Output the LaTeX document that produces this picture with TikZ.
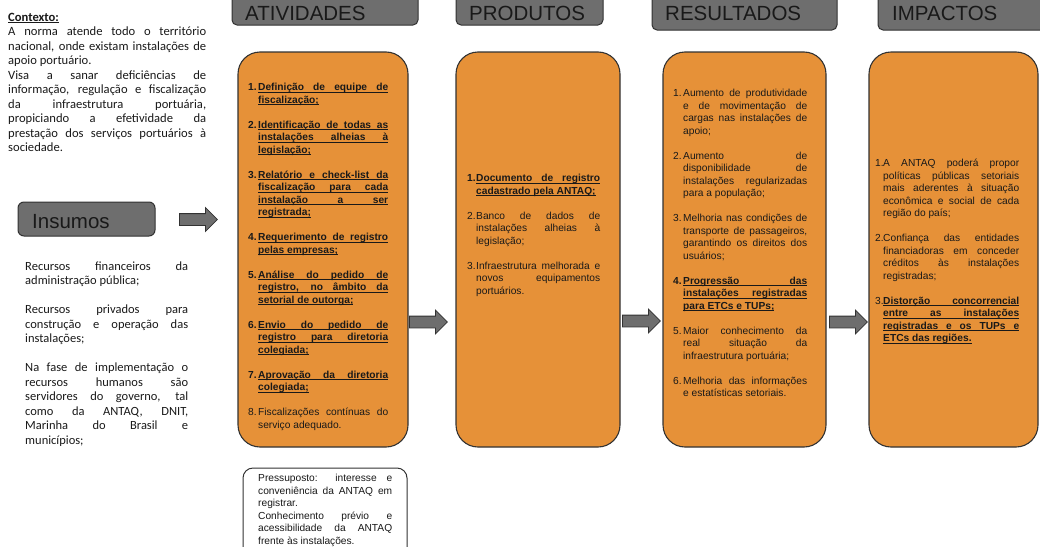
\documentclass[tikz,border=0pt]{standalone}
\usepackage{fontspec}
\setmainfont{Liberation Sans}
\newfontfamily\calfont{Carlito}
\usetikzlibrary{positioning,shapes.arrows}

\definecolor{laranja}{RGB}{230,145,56}
\definecolor{cinza}{RGB}{110,110,110}
\definecolor{borda}{RGB}{50,50,50}
\definecolor{texto}{RGB}{25,25,25}

\newcommand{\itm}[3]{\hangindent=#1\hangafter=1\noindent\makebox[#1][l]{#2}#3\par}
% linha sublinhada justificada / natural
\newcommand{\ulj}[2]{\rlap{\rule[-1.9pt]{#1}{0.6pt}}\makebox[#1][s]{\bfseries #2}}
\newcommand{\ulr}[1]{\setbox0\hbox{\bfseries #1}\rlap{\rule[-1.9pt]{\wd0}{0.6pt}}\box0}
\hbadness=10000
\hfuzz=2pt
\tolerance=9999
\hyphenpenalty=10000

\begin{document}
\begin{tikzpicture}[x=1pt,y=-1pt,
    cabec/.style={draw=borda,fill=cinza,line width=1pt,rounded corners=5pt,inner sep=0pt},
    cabtxt/.style={anchor=base west,inner sep=0pt,text=texto,font=\fontsize{20.5}{24}\selectfont},
    caixa/.style={draw=borda,fill=laranja,line width=1.1pt,rounded corners=22pt,inner sep=0pt},
    lista/.style={anchor=base west,inner sep=0pt,align=justify,text=texto,font=\fontsize{10.2}{12.5}\selectfont},
    seta/.style={single arrow,draw=borda,fill=cinza,line width=0.8pt,inner sep=5.5pt,
      single arrow head extend=6pt,minimum height=38pt,anchor=tail}]
  \useasboundingbox (0,0) rectangle (1040,546);

  % cabecalhos
  \node[cabec,minimum width=186pt,minimum height=35pt] (hAtiv) at (325,7.5) {};
  \node[cabec,minimum width=147pt,minimum height=35pt] (hProd) at (529.5,7.5) {};
  \node[cabec,minimum width=185pt,minimum height=40pt] (hRes) at (744.5,10) {};
  \node[cabec,minimum width=182pt,minimum height=40pt] (hImp) at (969,10) {};
  \node[cabtxt] (tAtiv) at (245,20) {ATIVIDADES};
  \node[cabtxt] (tProd) at (469,20) {PRODUTOS};
  \node[cabtxt] (tRes) at (665,20) {RESULTADOS};
  \node[cabtxt] (tImp) at (892,20) {IMPACTOS};

  % contexto
  \node[anchor=base west,inner sep=0pt,align=justify,text=texto,text width=198pt,
    font=\calfont\fontsize{12.6}{14.5}\selectfont] (contexto) at (8,21) {%
    \ulr{Contexto:}\par
    A norma atende todo o território\linebreak
    nacional, onde existam instalações de\linebreak
    apoio portuário.\par
    Visa a sanar deficiências de\linebreak
    informação, regulação e fiscalização\linebreak
    da infraestrutura portuária,\linebreak
    propiciando a efetividade da\linebreak
    prestação dos serviços portuários à\linebreak
    sociedade.};

  % insumos
  \node[cabec,rounded corners=6pt,minimum width=137pt,minimum height=34pt] (hIns) at (86.5,219) {};
  \node[cabtxt] (tIns) at (32,228) {Insumos};
  \node[seta] (arIns) at (179,219.5) {};
  \node[anchor=base west,inner sep=0pt,align=justify,text=texto,text width=163pt,
    font=\calfont\fontsize{12.5}{14.5}\selectfont] (insumos) at (25,270) {%
    Recursos financeiros da\linebreak
    administração pública;\par\vspace{14.5pt}
    Recursos privados para\linebreak
    construção e operação das\linebreak
    instalações;\par\vspace{14.5pt}
    Na fase de implementação o\linebreak
    recursos humanos são\linebreak
    servidores do governo, tal\linebreak
    como da ANTAQ, DNIT,\linebreak
    Marinha do Brasil e\linebreak
    municípios;};

  % caixas laranja
  \node[caixa,minimum width=170pt,minimum height=395pt] (ativ) at (323,249.5) {};
  \node[caixa,minimum width=164pt,minimum height=395pt] (prod) at (538,249.5) {};
  \node[caixa,minimum width=163pt,minimum height=395pt] (res) at (744.5,249.5) {};
  \node[caixa,minimum width=169pt,minimum height=395pt] (imp) at (953.5,249.5) {};

  \node[seta] (arAP) at (409,322) {};
  \node[seta] (arPR) at (622,321) {};
  \node[seta] (arRI) at (829,322) {};

  \node[lista,text width=140pt] (ativTxt) at (248,90.5) {%
    \itm{10pt}{\bfseries 1.}{\ulj{130pt}{Definição de equipe de}\linebreak\ulr{fiscalização;}}\vspace{12.5pt}
    \itm{10pt}{\bfseries 2.}{\ulj{130pt}{Identificação de todas as}\linebreak\ulj{130pt}{instalações alheias à}\linebreak\ulr{legislação;}}\vspace{12.5pt}
    \itm{10pt}{\bfseries 3.}{\ulj{130pt}{Relatório e check-list da}\linebreak\ulj{130pt}{fiscalização para cada}\linebreak\ulj{130pt}{instalação a ser}\linebreak\ulr{registrada;}}\vspace{12.5pt}
    \itm{10pt}{\bfseries 4.}{\ulj{130pt}{Requerimento de registro}\linebreak\ulr{pelas empresas;}}\vspace{12.5pt}
    \itm{10pt}{\bfseries 5.}{\ulj{130pt}{Análise do pedido de}\linebreak\ulj{130pt}{registro, no âmbito da}\linebreak\ulr{setorial de outorga;}}\vspace{12.5pt}
    \itm{10pt}{\bfseries 6.}{\ulj{130pt}{Envio do pedido de}\linebreak\ulj{130pt}{registro para diretoria}\linebreak\ulr{colegiada;}}\vspace{12.5pt}
    \itm{10pt}{\bfseries 7.}{\ulj{130pt}{Aprovação da diretoria}\linebreak\ulr{colegiada;}}\vspace{12.5pt}
    \itm{10pt}{8.}{Fiscalizações contínuas do\linebreak serviço adequado.}};

  \node[lista,text width=133pt] (prodTxt) at (467,181.5) {%
    \itm{9pt}{\bfseries 1.}{\ulj{124pt}{Documento de registro}\linebreak\ulr{cadastrado pela ANTAQ;}}\vspace{12.5pt}
    \itm{9pt}{2.}{Banco de dados de\linebreak instalações alheias à\linebreak legislação;}\vspace{12.5pt}
    \itm{9pt}{3.}{Infraestrutura melhorada e\linebreak novos equipamentos\linebreak portuários.}};

  \node[lista,text width=134pt] (resTxt) at (673,96.5) {%
    \itm{10pt}{1.}{Aumento de produtividade\linebreak e de movimentação de\linebreak cargas nas instalações de\linebreak apoio;}\vspace{12.5pt}
    \itm{10pt}{2.}{Aumento de\linebreak disponibilidade de\linebreak instalações regularizadas\linebreak para a população;}\vspace{12.5pt}
    \itm{10pt}{3.}{Melhoria nas condições de\linebreak transporte de passageiros,\linebreak garantindo os direitos dos\linebreak usuários;}\vspace{12.5pt}
    \itm{10pt}{\bfseries 4.}{\ulj{124pt}{Progressão das}\linebreak\ulj{124pt}{instalações registradas}\linebreak\ulr{para ETCs e TUPs;}}\vspace{12.5pt}
    \itm{10pt}{5.}{Maior conhecimento da\linebreak real situação da\linebreak infraestrutura portuária;}\vspace{12.5pt}
    \itm{10pt}{6.}{Melhoria das informações\linebreak e estatísticas setoriais.}};

  \node[lista,text width=144pt] (impTxt) at (875,166.5) {%
    \itm{8pt}{1.}{A ANTAQ poderá propor\linebreak políticas públicas setoriais\linebreak mais aderentes à situação\linebreak econômica e social de cada\linebreak região do país;}\vspace{12.5pt}
    \itm{8pt}{2.}{Confiança das entidades\linebreak financiadoras em conceder\linebreak créditos às instalações\linebreak registradas;}\vspace{12.5pt}
    \itm{8pt}{3.}{\ulj{136pt}{Distorção concorrencial}\linebreak\ulj{136pt}{entre as instalações}\linebreak\ulj{136pt}{registradas e os TUPs e}\linebreak\ulr{ETCs das regiões.}}};

  % pressuposto
  \node[draw=borda,fill=white,line width=1pt,rounded corners=10pt,minimum width=164pt,
    minimum height=92pt] (press) at (325,514) {};
  \node[anchor=base west,inner sep=0pt,align=justify,text=texto,text width=134pt,
    font=\fontsize{10.2}{12.6}\selectfont] (pressTxt) at (258,481.5) {%
    Pressuposto: interesse e\linebreak
    conveniência da ANTAQ em\linebreak
    registrar.\par
    Conhecimento prévio e\linebreak
    acessibilidade da ANTAQ\linebreak
    frente às instalações.};
\end{tikzpicture}
\end{document}
